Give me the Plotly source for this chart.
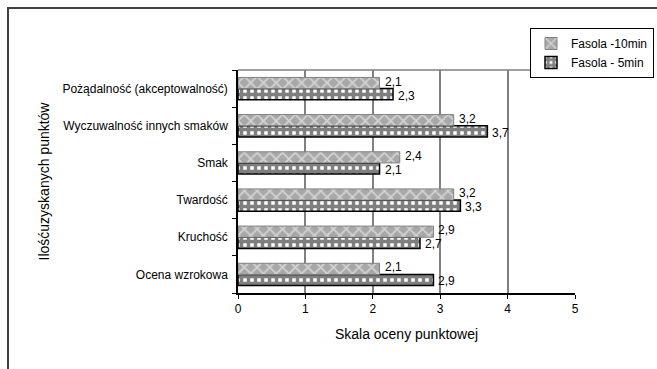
import plotly.graph_objects as go

# Categories listed bottom-to-top (y axis draws the first category at the bottom)
categories = [
    "Ocena wzrokowa",
    "Kruchość",
    "Twardość",
    "Smak",
    "Wyczuwalność innych smaków",
    "Pożądalność (akceptowalność)",
]
fasola_10min = [2.1, 2.9, 3.2, 2.4, 3.2, 2.1]
fasola_5min = [2.9, 2.7, 3.3, 2.1, 3.7, 2.3]
x_ticks = [0, 1, 2, 3, 4, 5]

W, H = 657, 369
L, R, T, B = 238, 82, 70, 76
pw, ph = W - L - R, H - T - B

def px_x(px):
    return (px - L) / pw

def px_y(py):
    return 1 - (py - T) / ph

font = dict(family="Liberation Sans, Arial, sans-serif", size=12, color="#000000")

fig = go.Figure()
fig.add_trace(go.Bar(
    name="Fasola - 5min", y=categories, x=fasola_5min, orientation="h",
    marker=dict(color="#ffffff", line=dict(color="#000000", width=1.5),
                pattern=dict(shape="+", fgcolor="#000000", bgcolor="#ffffff",
                             size=7, solidity=0.75)),
))
fig.add_trace(go.Bar(
    name="Fasola -10min", y=categories, x=fasola_10min, orientation="h",
    marker=dict(color="#a8a8a8", line=dict(color="#808080", width=1),
                pattern=dict(shape="x", fgcolor="#ffffff", bgcolor="#a8a8a8",
                             size=9, solidity=0.35)),
))

# value labels beside each bar end (10min above, 5min below the category centre)
annotations = []
for cat, v10, v5 in zip(categories, fasola_10min, fasola_5min):
    for val, dy in ((v10, 7), (v5, -7)):
        annotations.append(dict(
            x=val, y=cat, xref="x", yref="y", text=f"{val:.1f}".replace(".", ","),
            showarrow=False, xanchor="left", yanchor="middle",
            xshift=3, yshift=dy, font=font,
        ))

fig.update_layout(
    width=W, height=H,
    margin=dict(l=L, r=R, t=T, b=B, autoexpand=False),
    paper_bgcolor="#ffffff", plot_bgcolor="#ffffff",
    font=font, separators=", ",
    barmode="group", bargap=0.4, bargroupgap=0,
    showlegend=True,
    legend=dict(x=px_x(654), y=px_y(28), xanchor="right", yanchor="top",
                bgcolor="#ffffff", bordercolor="#000000", borderwidth=1,
                traceorder="reversed", font=font, itemwidth=30,
                tracegroupgap=0),
    xaxis=dict(range=[0, 5], tickvals=x_ticks, showgrid=True,
               gridcolor="#808080", gridwidth=1.5, showline=True,
               linecolor="#000000", linewidth=1.5, ticks="outside",
               ticklen=4, tickcolor="#000000", zeroline=False,
               title=dict(text="Skala oceny punktowej", standoff=14),
               fixedrange=True),
    yaxis=dict(showgrid=False, showline=True, linecolor="#000000",
               linewidth=1.5, ticks="outside", ticklen=4,
               tickcolor="#000000", tickson="boundaries",
               title=dict(text="Ilośćuzyskanych punktów", standoff=10),
               ticklabelstandoff=6, fixedrange=True),
    annotations=annotations,
    shapes=[
        # plot area top edge
        dict(type="line", xref="paper", yref="paper", x0=0, x1=1, y0=1, y1=1,
             line=dict(color="#808080", width=1.5)),
        # outer chart frame
        dict(type="rect", xref="paper", yref="paper",
             x0=px_x(8), x1=px_x(700), y0=px_y(8), y1=px_y(420),
             line=dict(color="#404040", width=2)),
    ],
)

fig.write_html("out.html")
